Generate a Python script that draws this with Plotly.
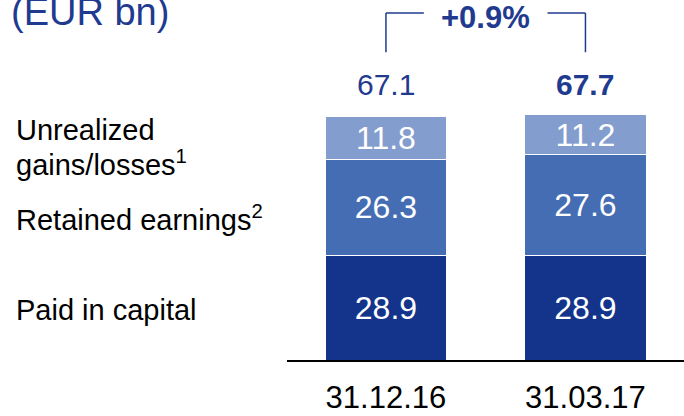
import plotly.graph_objects as go

dates = ['31.12.16', '31.03.17']
paid_in = [28.9, 28.9]
retained = [26.3, 27.6]
unrealized = [11.8, 11.2]
totals = [67.1, 67.7]

FONT = 'Liberation Sans, Arial, sans-serif'
NAVY = '#1F3A8F'
x = [0, 1]

fig = go.Figure()
for vals, color in [(paid_in, '#13348A'), (retained, '#456DB3'), (unrealized, '#839DCE')]:
    fig.add_trace(go.Bar(
        x=x, y=vals, width=0.61,
        marker=dict(color=color, line=dict(color='white', width=1)),
        text=[f'{v:.1f}' for v in vals],
        textposition='inside', insidetextanchor='middle',
        textfont=dict(color='white', size=32, family=FONT),
        showlegend=False, hoverinfo='skip'
    ))

# totals above bars
top_y = max(totals) + 8.2
fig.add_annotation(x=0, y=top_y, text=f'{totals[0]:.1f}', showarrow=False,
                   font=dict(size=30, color=NAVY, family=FONT))
fig.add_annotation(x=1, y=top_y, text=f'<b>{totals[1]:.1f}</b>', showarrow=False,
                   font=dict(size=30, color=NAVY, family=FONT))

# growth bracket
growth = (totals[1] / totals[0] - 1) * 100
br_low = max(totals) + 17.1
br_high = max(totals) + 27.9
line = dict(color=NAVY, width=1.5)
fig.add_shape(type='line', x0=0, x1=0, y0=br_low, y1=br_high, line=line)
fig.add_shape(type='line', x0=0, x1=0.19, y0=br_high, y1=br_high, line=line)
fig.add_shape(type='line', x0=0.81, x1=1, y0=br_high, y1=br_high, line=line)
fig.add_shape(type='line', x0=1, x1=1, y0=br_low, y1=br_high, line=line)
fig.add_annotation(x=0.5, y=max(totals) + 26.8, text=f'<b>+{growth:.1f}%</b>', showarrow=False,
                   font=dict(size=31, color=NAVY, family=FONT))

# left side labels
labels = [('Unrealized', 0.639), ('gains/losses<sup>1</sup>', 0.547),
          ('Retained earnings<sup>2</sup>', 0.394), ('Paid in capital', 0.139)]
for txt, yy in labels:
    fig.add_annotation(xref='paper', yref='paper', x=-0.688, y=yy, text=txt,
                       showarrow=False, xanchor='left', yanchor='middle',
                       font=dict(size=29, color='black', family=FONT))

fig.add_annotation(xref='paper', yref='paper', x=-0.70, y=0.967, xanchor='left',
                   yanchor='middle', text='(EUR bn)', showarrow=False,
                   font=dict(size=38, color=NAVY, family=FONT))

fig.update_layout(
    barmode='stack', width=684, height=416,
    margin=dict(l=287, r=0, t=0, b=56, autoexpand=False),
    plot_bgcolor='white', paper_bgcolor='white',
    font=dict(family=FONT),
    uniformtext=dict(minsize=32, mode='show'),
    xaxis=dict(range=[-0.496, 1.494], tickvals=x, ticktext=dates,
               tickfont=dict(size=31, color='black', family=FONT),
               showline=True, linecolor='black', linewidth=1.5, automargin=False,
               showgrid=False, zeroline=False, ticks='', ticklabelstandoff=9),
    yaxis=dict(range=[0, 99.2], visible=False, showgrid=False, automargin=False),
)

fig.write_html('out.html', config={'displayModeBar': False},
               post_script="document.body.style.margin='0';")
